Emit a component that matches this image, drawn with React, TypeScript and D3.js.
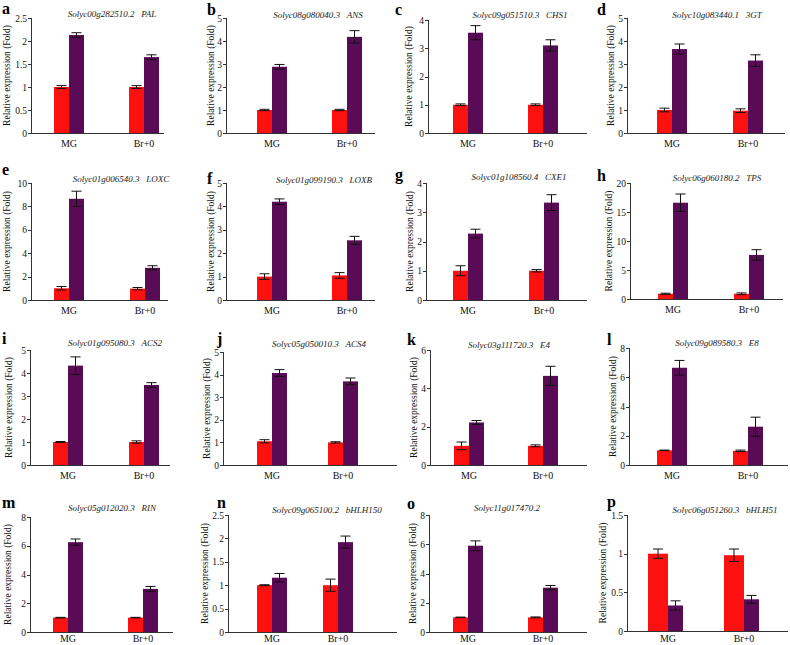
import React from "react";
import * as d3 from "d3";

const groups = ["MG", "Br+0"];
const panelLetters = ["a", "b", "c", "d", "e", "f", "g", "h", "i", "j", "k", "l", "m", "n", "o", "p"];
const geneIds = [
  "Solyc00g282510.2", "Solyc08g080040.3", "Solyc09g051510.3", "Solyc10g083440.1",
  "Solyc01g006540.3", "Solyc01g099190.3", "Solyc01g108560.4", "Solyc06g060180.2",
  "Solyc01g095080.3", "Solyc05g050010.3", "Solyc03g111720.3", "Solyc09g089580.3",
  "Solyc05g012020.3", "Solyc09g065100.2", "Solyc11g017470.2", "Solyc06g051260.3",
];
const geneNames = ["PAL", "ANS", "CHS1", "3GT", "LOXC", "LOXB", "CXE1", "TPS", "ACS2", "ACS4", "E4", "E8", "RIN", "bHLH150", "", "bHLH51"];
const yMax = [2.5, 5, 4, 5, 10, 5, 4, 20, 5, 5, 6, 8, 8, 2.5, 8, 1.5];
const yStep = [0.5, 1, 1, 1, 2, 1, 1, 5, 1, 1, 2, 2, 2, 0.5, 2, 0.5];

// [MG, Br+0] per panel
const redValues = [
  [1.0, 1.0], [1.0, 1.0], [1.0, 1.0], [1.0, 0.97],
  [1.0, 0.97], [1.0, 1.05], [1.0, 1.0], [0.9, 0.9],
  [1.0, 1.0], [1.05, 1.0], [1.0, 1.0], [1.0, 0.97],
  [1.0, 1.0], [1.0, 1.0], [1.0, 1.0], [1.0, 0.98],
];
const redErrors = [
  [0.03, 0.03], [0.03, 0.03], [0.03, 0.03], [0.08, 0.08],
  [0.15, 0.1], [0.12, 0.12], [0.17, 0.04], [0.1, 0.15],
  [0.02, 0.05], [0.07, 0.03], [0.2, 0.05], [0.02, 0.05],
  [0.02, 0.02], [0.01, 0.13], [0.02, 0.03], [0.06, 0.08],
];
const purpleValues = [
  [2.13, 1.65], [2.88, 4.18], [3.55, 3.1], [3.65, 3.15],
  [8.65, 2.75], [4.2, 2.55], [2.27, 3.33], [16.6, 7.6],
  [4.32, 3.48], [4.07, 3.7], [2.22, 4.65], [6.65, 2.62],
  [6.25, 3.0], [1.16, 1.92], [5.9, 3.03], [0.33, 0.41],
];
const purpleErrors = [
  [0.05, 0.05], [0.1, 0.27], [0.25, 0.2], [0.22, 0.25],
  [0.65, 0.18], [0.12, 0.17], [0.15, 0.27], [1.5, 0.9],
  [0.38, 0.1], [0.15, 0.15], [0.1, 0.5], [0.5, 0.65],
  [0.22, 0.17], [0.09, 0.13], [0.33, 0.15], [0.06, 0.05],
];

// Layout (pixel positions) per panel
const layout = [
  { ax: 31, top: 18, bot: 133, right: 164, c1: 69, c2: 144, lab: 7, lx: 2, ly: 14, tx: 112, ty: 17 },
  { ax: 226, top: 18, bot: 133, right: 375, c1: 272, c2: 347, lab: 211, lx: 207, ly: 15, tx: 318, ty: 18 },
  { ax: 428, top: 20, bot: 133, right: 587, c1: 468, c2: 543, lab: 409, lx: 395, ly: 15, tx: 520, ty: 18 },
  { ax: 627, top: 18, bot: 133, right: 785, c1: 672, c2: 748, lab: 611, lx: 597, ly: 15, tx: 717, ty: 18 },
  { ax: 31, top: 183, bot: 300, right: 168, c1: 69, c2: 145, lab: 7, lx: 2, ly: 175, tx: 121, ty: 182 },
  { ax: 226, top: 183, bot: 300, right: 375, c1: 272, c2: 347, lab: 211, lx: 207, ly: 184, tx: 324, ty: 183 },
  { ax: 426, top: 183, bot: 300, right: 587, c1: 468, c2: 544, lab: 410, lx: 395, ly: 180, tx: 519, ty: 180 },
  { ax: 630, top: 183, bot: 299, right: 783, c1: 673, c2: 749, lab: 609, lx: 597, ly: 181, tx: 717, ty: 181 },
  { ax: 30, top: 350, bot: 465, right: 170, c1: 68, c2: 144, lab: 9, lx: 2, ly: 344, tx: 115, ty: 346 },
  { ax: 223, top: 352, bot: 465, right: 397, c1: 272, c2: 343, lab: 207, lx: 217, ly: 344, tx: 319, ty: 347 },
  { ax: 430, top: 350, bot: 465, right: 587, c1: 469, c2: 543, lab: 414, lx: 407, ly: 345, tx: 509, ty: 348 },
  { ax: 629, top: 348, bot: 465, right: 788, c1: 672, c2: 748, lab: 613, lx: 607, ly: 345, tx: 717, ty: 346 },
  { ax: 30, top: 517, bot: 632, right: 173, c1: 68, c2: 143, lab: 8, lx: 2, ly: 508, tx: 112, ty: 511 },
  { ax: 228, top: 515, bot: 632, right: 397, c1: 272, c2: 338, lab: 205, lx: 217, ly: 508, tx: 327, ty: 513 },
  { ax: 429, top: 515, bot: 632, right: 587, c1: 468, c2: 543, lab: 413, lx: 407, ly: 509, tx: 507, ty: 511 },
  { ax: 627, top: 515, bot: 631, right: 788, c1: 668, c2: 744, lab: 603, lx: 607, ly: 507, tx: 725, ty: 513 },
];

const RED = "#fc1010";
const PURPLE = "#5a0b55";
const FONT = "'Liberation Serif', 'Times New Roman', serif";
const fmt = d3.format("~g");

function Panel({ i }: { i: number }) {
  const L = layout[i];
  const y = d3.scaleLinear().domain([0, yMax[i]]).range([L.bot, L.top]);
  const x = d3.scalePoint<string>().domain(groups).range([L.c1, L.c2]);
  const ticks = d3.range(0, yMax[i] + 1e-9, yStep[i]);
  const redW = i === 15 ? 20 : 15;
  const purW = 15;
  const capR = 5;
  const midY = (L.top + L.bot) / 2;
  const xLabY = Math.min(L.bot + 14, 642);
  return (
    <g>
      {groups.map((g, k) => {
        const cx = x(g) as number;
        const rv = redValues[i][k];
        const pv = purpleValues[i][k];
        const re = redErrors[i][k];
        const pe = purpleErrors[i][k];
        const rcx = cx - redW / 2;
        const pcx = cx + purW / 2;
        return (
          <g key={g}>
            <rect x={cx - redW} y={y(rv)} width={redW} height={y(0) - y(rv)} fill={RED} />
            <rect x={cx} y={y(pv)} width={purW} height={y(0) - y(pv)} fill={PURPLE} />
            <g stroke="#111" strokeWidth={1}>
              <line x1={rcx} x2={rcx} y1={y(rv - re)} y2={y(rv + re)} />
              <line x1={rcx - capR} x2={rcx + capR} y1={y(rv + re)} y2={y(rv + re)} />
              <line x1={rcx - capR} x2={rcx + capR} y1={y(rv - re)} y2={y(rv - re)} />
              <line x1={pcx} x2={pcx} y1={y(pv - pe)} y2={y(pv + pe)} />
              <line x1={pcx - capR} x2={pcx + capR} y1={y(pv + pe)} y2={y(pv + pe)} />
              <line x1={pcx - capR} x2={pcx + capR} y1={y(pv - pe)} y2={y(pv - pe)} />
            </g>
            <text x={cx} y={xLabY} textAnchor="middle" fontSize={10} fill="#111">{g}</text>
          </g>
        );
      })}
      <g stroke="#333" strokeWidth={1}>
        <line x1={L.ax + 0.5} x2={L.ax + 0.5} y1={L.top} y2={L.bot + 0.5} />
        <line x1={L.ax} x2={L.right} y1={L.bot + 0.5} y2={L.bot + 0.5} />
        {ticks.map((t) => (
          <line key={t} x1={L.ax - 3} x2={L.ax} y1={Math.round(y(t)) + 0.5} y2={Math.round(y(t)) + 0.5} />
        ))}
      </g>
      {ticks.map((t) => (
        <text key={"l" + t} x={L.ax - 4} y={y(t) + 3.5} textAnchor="end" fontSize={9.5} fill="#111">{fmt(t)}</text>
      ))}
      <text transform={`translate(${L.lab},${midY}) rotate(-90)`} textAnchor="middle" dominantBaseline="central" fontSize={9.5} fill="#111">
        Relative expression (Fold)
      </text>
      <text x={L.tx} y={L.ty} textAnchor="middle" fontSize={9} fontStyle="italic" fill="#222" xmlSpace="preserve">
        {geneIds[i] + (geneNames[i] ? "   " + geneNames[i] : "")}
      </text>
      <text x={L.lx} y={L.ly} fontSize={16} fontWeight="bold" fill="#000">{panelLetters[i]}</text>
    </g>
  );
}

export default function App() {
  return (
    <svg width={790} height={645} style={{ position: "absolute", left: 0, top: 0, background: "#fff" }} fontFamily={FONT}>
      <rect width={790} height={645} fill="#fff" />
      {panelLetters.map((_, i) => (
        <Panel key={i} i={i} />
      ))}
    </svg>
  );
}
